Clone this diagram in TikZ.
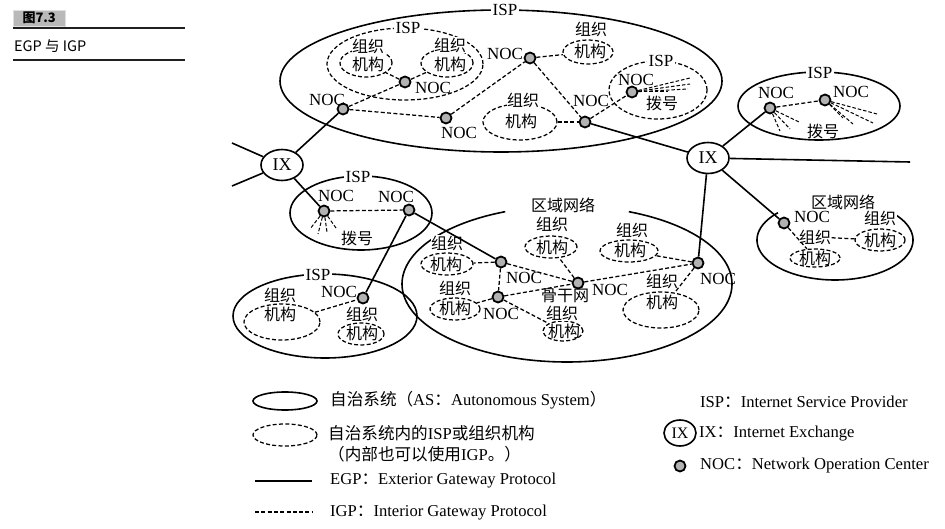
\documentclass[tikz,border=0pt]{standalone}
\usepackage{fontspec}
\setmainfont{Liberation Serif}
\newfontfamily\cjk{Noto Sans CJK SC}
\usetikzlibrary{shapes.geometric}
\begin{document}
\begin{tikzpicture}[x=1pt,y=-1pt,
  as/.style={draw, ellipse, line width=1.6pt, inner sep=0pt},
  sub/.style={draw, ellipse, line width=1.25pt, dash pattern=on 4pt off 2.3pt, inner sep=0pt},
  egp/.style={line width=1.6pt},
  igp/.style={line width=1.25pt, dash pattern=on 4pt off 2.3pt},
  ray/.style={line width=1pt, dash pattern=on 3.5pt off 2pt},
  noc/.style={circle, draw, line width=1.8pt, fill=gray!60, minimum size=11pt, inner sep=0pt},
  ixn/.style={ellipse, draw, line width=1.6pt, fill=white, minimum width=42pt, minimum height=31pt, inner sep=0pt, font=\fontsize{18}{18}\selectfont},
  lt/.style={inner sep=0.5pt, font=\fontsize{17}{17}\selectfont},
  ct/.style={inner sep=0.5pt, font=\fontsize{16}{16}\selectfont\cjk},
  wl/.style={fill=white, inner xsep=2pt, inner ysep=0.5pt},
  lg/.style={anchor=west, inner sep=0pt, font=\fontsize{16.6}{19}\selectfont}
]
\useasboundingbox (0,0) rectangle (945,529);
% ---------- header ----------
\node[fill=gray!55, draw=gray!25, anchor=north west, minimum width=52pt, minimum height=16pt, inner sep=0pt, font=\fontsize{13}{13}\selectfont\cjk\bfseries] (hbox) at (13,10) {图7.3};
\coordinate (h1a) at (13,28); \coordinate (h1b) at (185,28);
\draw[line width=1.4pt, gray!25!black] (h1a) -- (h1b);
\node[anchor=west, inner sep=0pt, font=\fontsize{14.5}{14.5}\selectfont\cjk] (htitle) at (14,46) {EGP 与 IGP};
\coordinate (h2a) at (13,60); \coordinate (h2b) at (185,60);
\draw[line width=1.4pt, gray!25!black] (h2a) -- (h2b);

% ---------- top big ISP ----------
\node[as, minimum width=442pt, minimum height=142pt] (topAS) at (501,81) {};
\node[sub, minimum width=156pt, minimum height=72pt] (isp1) at (405,64) {};
\node[sub, minimum width=52pt, minimum height=28pt] (o1) at (366,63) {};
\node[sub, minimum width=52pt, minimum height=28pt] (o2) at (447,63) {};
\node[sub, minimum width=50pt, minimum height=24pt] (o3) at (588,52) {};
\node[sub, minimum width=74pt, minimum height=36pt] (o4) at (520,122) {};
\node[sub, minimum width=98pt, minimum height=58pt] (isp2) at (658,90) {};
\node[lt, wl] (topASl) at (505,10) {ISP};
\node[lt, wl] (isp1l) at (408,28) {ISP};
\node[lt, wl] (isp2l) at (661,61) {ISP};
\node[ct, fill=white] (o1a) at (368,46) {组织};
\node[ct] (o1b) at (368,64) {机构};
\node[ct, fill=white] (o2a) at (450,45) {组织};
\node[ct] (o2b) at (450,64) {机构};
\node[ct, fill=white] (o3a) at (591,29) {组织};
\node[ct] (o3b) at (590,51) {机构};
\node[ct, fill=white] (o4a) at (523,100) {组织};
\node[ct] (o4b) at (521,121) {机构};
\node[noc] (n1) at (405,82) {};
\node[noc] (n2) at (343,109) {};
\node[noc] (n3) at (446,118) {};
\node[noc] (n4) at (530,58) {};
\node[noc] (n5) at (585,122) {};
\node[noc] (n6) at (632,92) {};
\node[lt] (n1l) at (433,88) {NOC};
\node[lt] (n2l) at (327,100) {NOC};
\node[lt] (n3l) at (459,133) {NOC};
\node[lt] (n4l) at (505,54) {NOC};
\node[lt] (n5l) at (591,101) {NOC};
\node[lt] (n6l) at (636,80) {NOC};
\node[ct] (n6d) at (662,103) {拨号};
\coordinate (n6r1) at (690,78);
\coordinate (n6r2) at (690,84);
\coordinate (n6r3) at (688,89);
\coordinate (n6r4) at (668,92);
\draw[igp] (n1) -- (o1);
\draw[igp] (n1) -- (o2);
\draw[igp] (n2) -- (n1);
\draw[igp] (n2) -- (n3);
\draw[igp] (n3) -- (n4);
\draw[igp] (n4) -- (o3);
\draw[igp] (n4) -- (n5);
\draw[igp] (o4) -- (n5);
\draw[igp] (n5) -- (n6);
\foreach \r in {n6r1,n6r2,n6r3,n6r4} \draw[ray] (n6) -- (\r);

% ---------- left IX and ISPs ----------
\node[ixn] (ixL) at (282,165) {IX};
\coordinate (eL1) at (232,143);
\coordinate (eL2) at (232,186);
\node[as, minimum width=142pt, minimum height=74pt] (isp3) at (361,213) {};
\node[lt, wl] (isp3l) at (358,177) {ISP};
\node[noc] (m1) at (324,211) {};
\node[noc] (m2) at (409,210) {};
\node[lt] (m1l) at (336,196) {NOC};
\node[lt] (m2l) at (396,197) {NOC};
\node[ct] (m1d) at (357,238) {拨号};
\coordinate (m1r1) at (310,229);
\coordinate (m1r2) at (318,234);
\coordinate (m1r3) at (327,232);
\coordinate (m1r4) at (336,228);
\draw[igp] (m1) -- (m2);
\foreach \r in {m1r1,m1r2,m1r3,m1r4} \draw[ray] (m1) -- (\r);

\node[as, minimum width=184pt, minimum height=84pt] (isp4) at (325,316) {};
\node[lt, wl] (isp4l) at (318,275) {ISP};
\node[sub, minimum width=76pt, minimum height=36pt] (o5) at (282,322) {};
\node[sub, minimum width=46pt, minimum height=22pt] (o6) at (361,334) {};
\node[ct, fill=white] (o5a) at (280,295) {组织};
\node[ct] (o5b) at (280,314) {机构};
\node[ct, fill=white] (o6a) at (362,314) {组织};
\node[ct] (o6b) at (362,333) {机构};
\node[noc] (p1) at (363,298) {};
\node[lt] (p1l) at (339,292) {NOC};
\draw[igp] (o5) -- (p1);

\draw[egp] (eL1) -- (ixL);
\draw[egp] (eL2) -- (ixL);
\draw[egp] (ixL) -- (n2);
\draw[egp] (ixL) -- (m1);
\draw[egp] (m2) -- (p1);

% ---------- regional network (center) ----------
\draw[egp] plot[domain=112:428, samples=150, smooth] ({567+165*cos(\x)},{284-78*sin(\x)});
\node[ct] (regl) at (563,205) {区域网络};
\node[sub, minimum width=52pt, minimum height=22pt] (e1) at (447,264) {};
\node[sub, minimum width=50pt, minimum height=22pt] (e2) at (455,309) {};
\node[sub, minimum width=52pt, minimum height=22pt] (e3) at (551,247) {};
\node[sub, minimum width=40pt, minimum height=20pt] (e4) at (563,331) {};
\node[sub, minimum width=58pt, minimum height=22pt] (e5) at (629,251) {};
\node[sub, minimum width=76pt, minimum height=36pt] (e6) at (661,310) {};
\node[ct, fill=white] (e1a) at (447,243) {组织};
\node[ct] (e1b) at (446,264) {机构};
\node[ct, fill=white] (e2a) at (455,288) {组织};
\node[ct] (e2b) at (455,308) {机构};
\node[ct, fill=white] (e3a) at (552,224) {组织};
\node[ct] (e3b) at (552,247) {机构};
\node[ct] (e4c) at (565,296) {骨干网};
\node[ct, fill=white] (e4a) at (562,313) {组织};
\node[ct] (e4b) at (564,331) {机构};
\node[ct, fill=white] (e5a) at (632,230) {组织};
\node[ct] (e5b) at (630,250) {机构};
\node[ct, fill=white] (e6a) at (662,281) {组织};
\node[ct] (e6b) at (662,302) {机构};
\node[noc] (A) at (501,262) {};
\node[noc] (B) at (498,297) {};
\node[noc] (C) at (578,283) {};
\node[noc] (D) at (698,263) {};
\node[lt] (Al) at (524,278) {NOC};
\node[lt] (Bl) at (501,314) {NOC};
\node[lt] (Cl) at (610,290) {NOC};
\node[lt] (Dl) at (718,279) {NOC};
\draw[igp] (A) -- (e1);
\draw[igp] (A) -- (B);
\draw[igp] (A) -- (C);
\draw[igp] (B) -- (e2);
\draw[igp] (B) -- (C);
\draw[igp] (B) -- (e4);
\draw[igp] (C) -- (e3);
\draw[igp] (C) -- (D);
\draw[igp] (D) -- (e5);
\draw[igp] (D) -- (e6);
\draw[egp] (m2) -- (A);

% ---------- right IX ----------
\node[ixn] (ixR) at (708,158) {IX};
\coordinate (eR) at (910,162);
\node[as, minimum width=162pt, minimum height=68pt] (isp5) at (819,106) {};
\node[lt, wl] (isp5l) at (820,73) {ISP};
\node[noc] (q1) at (770,108) {};
\node[noc] (q2) at (825,100) {};
\node[lt] (q1l) at (776,93) {NOC};
\node[lt] (q2l) at (851,92) {NOC};
\node[ct] (q1d) at (823,131) {拨号};
\coordinate (q1r1) at (780,131);
\coordinate (q1r2) at (790,129);
\coordinate (q1r3) at (799,122);
\coordinate (q2r1) at (877,114);
\coordinate (q2r2) at (873,123);
\coordinate (q2r3) at (853,124);
\coordinate (q2r4) at (843,118);
\draw[igp] (q1) -- (q2);
\foreach \r in {q1r1,q1r2,q1r3} \draw[ray] (q1) -- (\r);
\foreach \r in {q2r1,q2r2,q2r3,q2r4} \draw[ray] (q2) -- (\r);

\draw[egp] plot[domain=137:403, samples=120, smooth] ({835+78*cos(\x)},{240-40*sin(\x)});
\node[ct] (reg2l) at (843,202) {区域网络};
\node[sub, minimum width=50pt, minimum height=18pt] (f1) at (815,258) {};
\node[sub, minimum width=50pt, minimum height=22pt] (f2) at (880,240) {};
\node[ct, fill=white] (f1a) at (815,237) {组织};
\node[ct] (f1b) at (815,258) {机构};
\node[ct, fill=white] (f2a) at (880,218) {组织};
\node[ct] (f2b) at (880,240) {机构};
\node[noc] (r1) at (784,223) {};
\node[lt] (r1l) at (812,217) {NOC};
\draw[igp] (r1) -- (f1);
\draw[igp] (f1a) -- (f2);

\draw[egp] (n5) -- (ixR);
\draw[egp] (ixR) -- (q1);
\draw[egp] (ixR) -- (r1);
\draw[egp] (ixR) -- (D);
\draw[egp] (ixR) -- (eR);

% ---------- legend ----------
\node[as, minimum width=64pt, minimum height=18pt] (legAS) at (285,401) {};
\node[lg] (legASt) at (330,400) {{\cjk 自治系统（}AS{\cjk ：}Autonomous System{\cjk ）}};
\node[sub, minimum width=64pt, minimum height=22pt] (legSub) at (285,435) {};
\node[lg] (legSubt1) at (328,433) {{\cjk 自治系统内的}ISP{\cjk 或组织机构}};
\node[lg] (legSubt2) at (328,454) {{\cjk （内部也可以使用}IGP{\cjk 。）}};
\coordinate (l1a) at (255,481); \coordinate (l1b) at (312,481);
\draw[egp] (l1a) -- (l1b);
\node[lg] (legEGP) at (330,481) {EGP{\cjk ：}Exterior Gateway Protocol};
\coordinate (l2a) at (255,512); \coordinate (l2b) at (312,512);
\draw[igp] (l2a) -- (l2b);
\node[lg] (legIGP) at (330,513) {IGP{\cjk ：}Interior Gateway Protocol};
\node[lg] (legISP) at (700,402) {ISP{\cjk ：}Internet Service Provider};
\node[ixn, minimum width=32pt, minimum height=26pt, font=\fontsize{16}{16}\selectfont] (legIX) at (680,433) {IX};
\node[lg] (legIXt) at (699,434) {IX{\cjk ：}Internet Exchange};
\node[noc] (legNOC) at (680,466) {};
\node[lg] (legNOCt) at (700,466) {NOC{\cjk ：}Network Operation Center};
\end{tikzpicture}
\end{document}
